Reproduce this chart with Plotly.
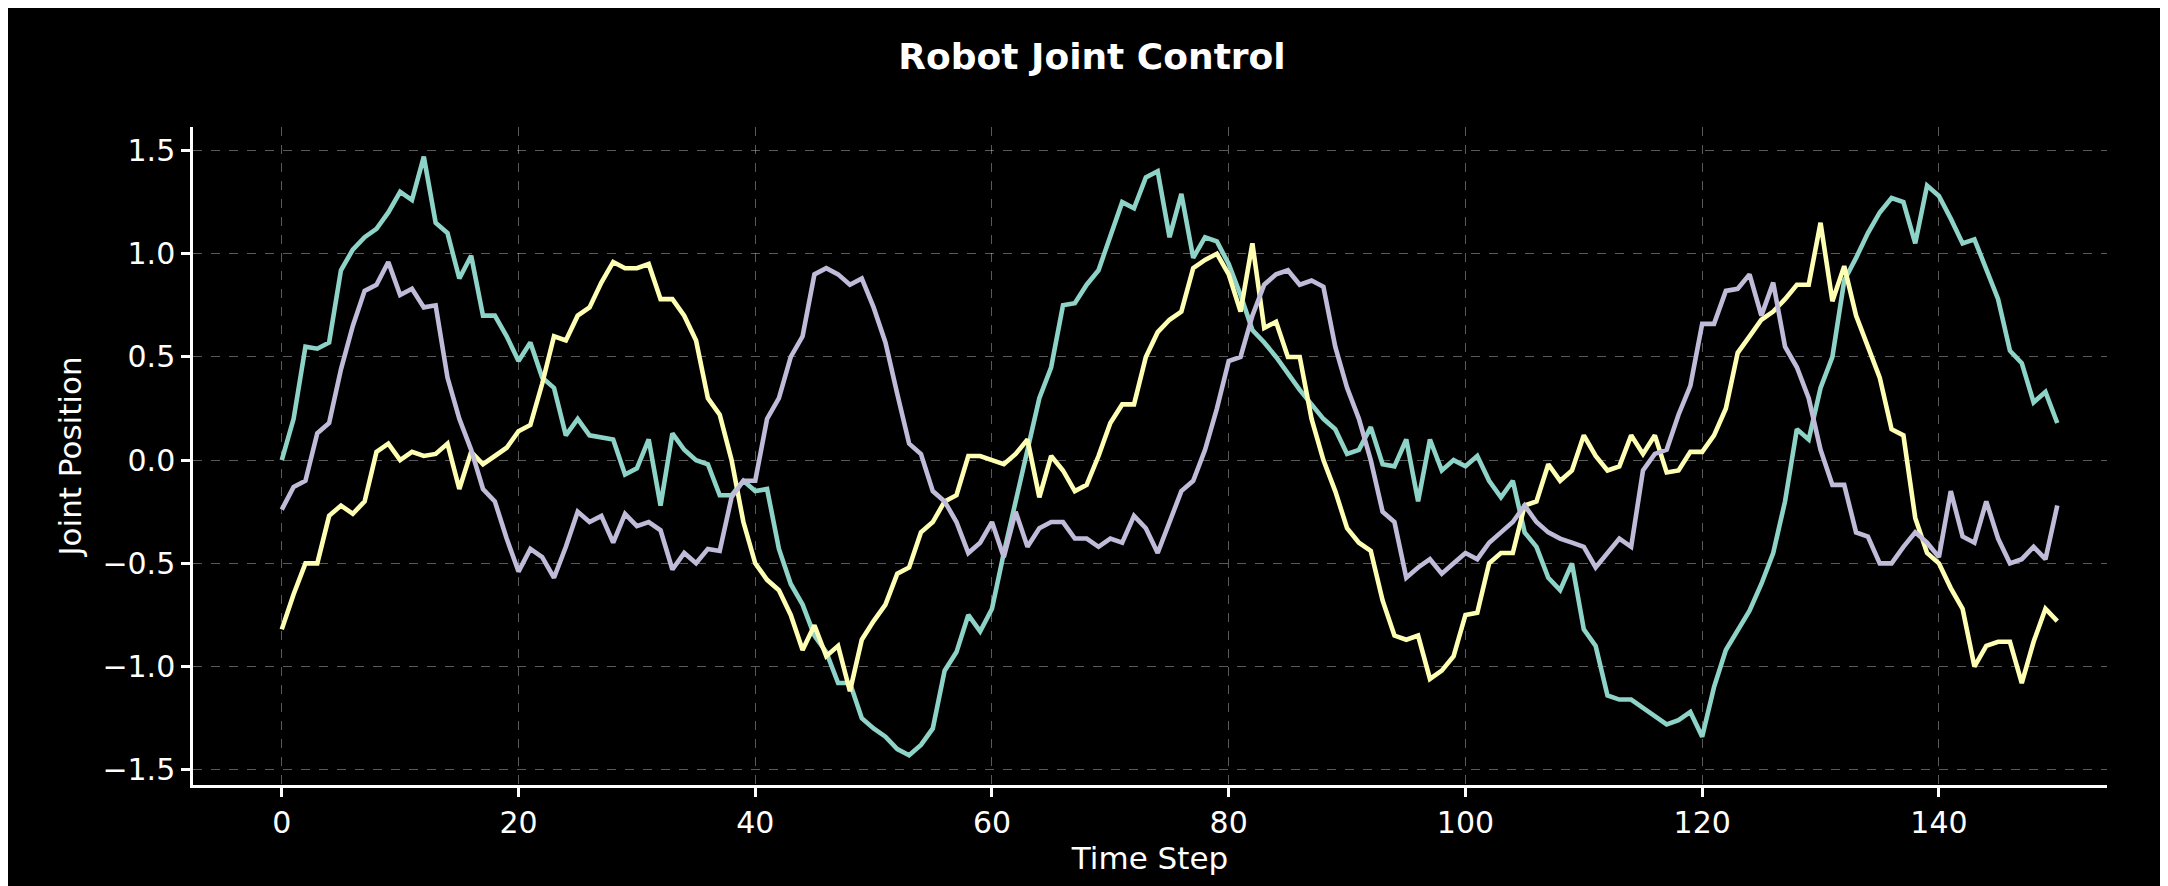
import plotly.graph_objects as go

time_step = list(range(151))

joint_1 = [0.0, 0.2, 0.55, 0.54, 0.57, 0.92, 1.02, 1.08, 1.12, 1.2,
           1.3, 1.26, 1.47, 1.15, 1.1, 0.88, 0.99, 0.7, 0.7, 0.6,
           0.48, 0.57, 0.4, 0.35, 0.12, 0.2, 0.12, 0.11, 0.1, -0.07,
           -0.04, 0.1, -0.22, 0.13, 0.05, 0.0, -0.02, -0.17, -0.17, -0.1,
           -0.15, -0.14, -0.43, -0.6, -0.7, -0.85, -0.93, -1.08, -1.08, -1.25,
           -1.3, -1.34, -1.4, -1.43, -1.38, -1.3, -1.02, -0.93, -0.75, -0.83,
           -0.72, -0.45, -0.2, 0.05, 0.3, 0.45, 0.75, 0.76, 0.85, 0.92,
           1.08, 1.25, 1.22, 1.37, 1.4, 1.08, 1.29, 0.98, 1.08, 1.06,
           0.95, 0.8, 0.63, 0.57, 0.5, 0.42, 0.34, 0.27, 0.2, 0.15,
           0.03, 0.05, 0.16, -0.02, -0.03, 0.1, -0.2, 0.1, -0.05, 0.0,
           -0.03, 0.02, -0.1, -0.18, -0.1, -0.35, -0.42, -0.57, -0.63, -0.5,
           -0.82, -0.9, -1.14, -1.16, -1.16, -1.2, -1.24, -1.28, -1.26, -1.22,
           -1.34, -1.1, -0.92, -0.82, -0.73, -0.6, -0.45, -0.2, 0.15, 0.1,
           0.35, 0.5, 0.87, 0.98, 1.1, 1.2, 1.27, 1.25, 1.05, 1.33,
           1.28, 1.17, 1.05, 1.07, 0.93, 0.78, 0.53, 0.47, 0.28, 0.33,
           0.18]

joint_2 = [-0.82, -0.65, -0.5, -0.5, -0.27, -0.22, -0.26, -0.2, 0.04, 0.08,
           0.0, 0.04, 0.02, 0.03, 0.08, -0.14, 0.04, -0.02, 0.02, 0.06,
           0.14, 0.17, 0.37, 0.6, 0.58, 0.7, 0.74, 0.86, 0.96, 0.93,
           0.93, 0.95, 0.78, 0.78, 0.7, 0.58, 0.3, 0.22, 0.0, -0.3,
           -0.5, -0.58, -0.63, -0.75, -0.92, -0.8, -0.95, -0.9, -1.12, -0.87,
           -0.78, -0.7, -0.55, -0.52, -0.35, -0.3, -0.2, -0.17, 0.02, 0.02,
           0.0, -0.02, 0.03, 0.1, -0.18, 0.02, -0.05, -0.15, -0.12, 0.02,
           0.18, 0.27, 0.27, 0.5, 0.62, 0.68, 0.72, 0.93, 0.97, 1.0,
           0.9, 0.72, 1.05, 0.64, 0.67, 0.5, 0.5, 0.2, 0.0, -0.15,
           -0.33, -0.4, -0.44, -0.68, -0.85, -0.87, -0.85, -1.06, -1.02, -0.95,
           -0.75, -0.74, -0.5, -0.45, -0.45, -0.22, -0.2, -0.02, -0.1, -0.05,
           0.12, 0.02, -0.05, -0.03, 0.12, 0.03, 0.12, -0.06, -0.05, 0.04,
           0.04, 0.12, 0.25, 0.52, 0.6, 0.68, 0.72, 0.78, 0.85, 0.85,
           1.15, 0.77, 0.94, 0.7, 0.55, 0.4, 0.15, 0.12, -0.28, -0.45,
           -0.5, -0.62, -0.72, -1.0, -0.9, -0.88, -0.88, -1.08, -0.88, -0.72,
           -0.78]

joint_3 = [-0.24, -0.13, -0.1, 0.13, 0.18, 0.44, 0.65, 0.82, 0.85, 0.96,
           0.8, 0.83, 0.74, 0.75, 0.4, 0.2, 0.05, -0.14, -0.2, -0.38,
           -0.54, -0.43, -0.47, -0.57, -0.42, -0.25, -0.3, -0.27, -0.4, -0.26,
           -0.32, -0.3, -0.34, -0.53, -0.45, -0.5, -0.43, -0.44, -0.18, -0.1,
           -0.1, 0.2, 0.3, 0.5, 0.6, 0.9, 0.93, 0.9, 0.85, 0.88,
           0.74, 0.57, 0.32, 0.08, 0.03, -0.15, -0.2, -0.3, -0.45, -0.4,
           -0.3, -0.47, -0.25, -0.42, -0.33, -0.3, -0.3, -0.38, -0.38, -0.42,
           -0.38, -0.4, -0.27, -0.33, -0.45, -0.3, -0.15, -0.1, 0.05, 0.25,
           0.48, 0.5, 0.7, 0.85, 0.9, 0.92, 0.85, 0.87, 0.84, 0.55,
           0.35, 0.2, 0.0, -0.25, -0.3, -0.57, -0.52, -0.48, -0.55, -0.5,
           -0.45, -0.48, -0.4, -0.35, -0.3, -0.22, -0.3, -0.35, -0.38, -0.4,
           -0.42, -0.52, -0.45, -0.38, -0.42, -0.05, 0.03, 0.05, 0.22, 0.36,
           0.66, 0.66, 0.82, 0.83, 0.9, 0.7, 0.86, 0.55, 0.45, 0.3,
           0.05, -0.12, -0.12, -0.35, -0.37, -0.5, -0.5, -0.42, -0.35, -0.4,
           -0.47, -0.15, -0.37, -0.4, -0.2, -0.38, -0.5, -0.48, -0.42, -0.48,
           -0.22]

colors = ["#8dd3c7", "#feffb3", "#bfbbd9"]

fig = go.Figure()
for ys, c in zip([joint_1, joint_2, joint_3], colors):
    fig.add_trace(go.Scatter(x=time_step, y=ys, mode="lines",
                             line=dict(color=c, width=4.6), showlegend=False))

axis_common = dict(
    showgrid=True, gridcolor="rgba(255,255,255,0.35)", griddash="dash", gridwidth=1,
    showline=True, linecolor="white", linewidth=2.5, ticks="outside",
    tickcolor="white", ticklen=9, tickwidth=2.5, zeroline=False,
    tickfont=dict(size=30, color="white"),
)

fig.update_layout(
    width=2168, height=886,
    paper_bgcolor="black", plot_bgcolor="black",
    font=dict(family="DejaVu Sans", color="white"),
    margin=dict(l=185, r=69, t=119, b=109),
    title=dict(text="<b>Robot Joint Control</b>", x=0.5, xanchor="center",
               y=0.96, yanchor="top", font=dict(size=36, color="white")),
    xaxis=dict(range=[-7.5, 154.2], tickvals=[0, 20, 40, 60, 80, 100, 120, 140],
               title=dict(text="Time Step", font=dict(size=31), standoff=8),
               **axis_common),
    yaxis=dict(range=[-1.574, 1.614], tickvals=[-1.5, -1.0, -0.5, 0.0, 0.5, 1.0, 1.5],
               ticktext=["\u22121.5", "\u22121.0", "\u22120.5", "0.0", "0.5", "1.0", "1.5"],
               title=dict(text="Joint Position", font=dict(size=31), standoff=12),
               **axis_common),
)

fig.write_html("out.html")
